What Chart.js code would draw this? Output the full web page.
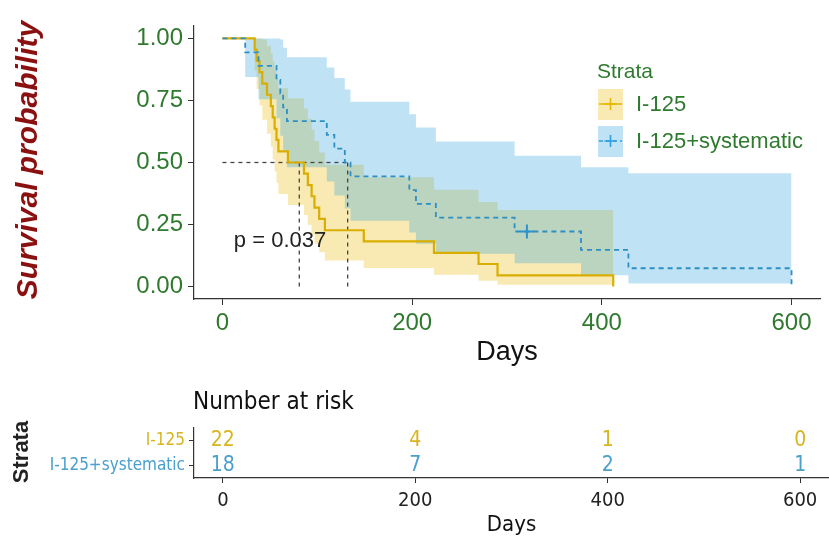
<!DOCTYPE html>
<html>
<head>
<meta charset="utf-8">
<script src="https://cdn.jsdelivr.net/npm/chart.js@4.4.0/dist/chart.umd.min.js"></script>
<style>
  body { margin: 0; background: #fff; width: 829px; height: 540px; overflow: hidden; position: relative; }
  #grafica { position: absolute; left: 0; top: 0; }
  #riesgo { position: absolute; left: 0; top: 380px; }
</style>
</head>
<body>
<canvas id="grafica" width="829" height="380"></canvas>
<canvas id="riesgo" width="829" height="160"></canvas>
<script>
// I-125 : tiempos, supervivencia y banda de confianza
const t125 = [0, 34, 36, 39, 42, 47, 51, 53, 55, 57, 59, 69, 86, 90, 94, 97, 102, 108, 149, 223, 270, 290, 412]
const s125 = [1, 0.955, 0.909, 0.864, 0.818, 0.773, 0.727, 0.682, 0.636, 0.591, 0.545, 0.5, 0.455, 0.409, 0.364, 0.318, 0.273, 0.227, 0.182, 0.136, 0.091, 0.045, 0]
const up125 = [1, 1, 1, 1, 0.996, 0.969, 0.94, 0.907, 0.873, 0.837, 0.799, 0.759, 0.718, 0.676, 0.632, 0.587, 0.54, 0.491, 0.441, 0.39, 0.341, 0.309, 0.309]
const lo125 = [1, 0.871, 0.796, 0.731, 0.672, 0.616, 0.563, 0.513, 0.464, 0.417, 0.373, 0.329, 0.288, 0.248, 0.209, 0.173, 0.138, 0.105, 0.075, 0.048, 0.024, 0.007, 0.007]

// I-125+systematic
const tSys = [0, 24, 38, 57, 61, 64, 68, 110, 118, 129, 135, 197, 204, 225, 308, 378, 428, 600]
const sSys = [1, 0.944, 0.889, 0.833, 0.778, 0.722, 0.667, 0.611, 0.556, 0.5, 0.444, 0.389, 0.333, 0.278, 0.222, 0.148, 0.074, 0]
const upSys = [1, 1, 1, 1, 0.996, 0.962, 0.924, 0.883, 0.84, 0.794, 0.745, 0.694, 0.641, 0.585, 0.527, 0.481, 0.457, 0.457]
const loSys = [1, 0.845, 0.755, 0.678, 0.608, 0.542, 0.481, 0.423, 0.367, 0.315, 0.265, 0.218, 0.173, 0.132, 0.094, 0.046, 0.012, 0.012]
const censSysT = [321]
const censSysS = [0.222]

const med125 = 81
const medSys = 132
const pValue = "p = 0.037"

const strata = ["I-125", "I-125+systematic"]
const xTicks = [0, 200, 400, 600]
const yTicks = [0, 0.25, 0.5, 0.75, 1]
const riskT = [0, 200, 400, 600]
const risk125 = [22, 4, 1, 0]
const riskSys = [18, 7, 2, 1]

const YEL = '#E7B800'
const BLU = '#2E9FDF'
const GREEN = '#2f7a2f'
const FONT = "'Liberation Sans', Arial, sans-serif"
const NARROW = "'Liberation Sans Narrow', 'Arial Narrow', 'DejaVu Sans Condensed', sans-serif"

const pts = (xs, ys) => xs.map((x, i) => ({ x: x, y: ys[i] }))

const medLine = (pairs) => ({
    data: pairs, borderColor: '#444', borderWidth: 1.3, borderDash: [4, 4],
    pointRadius: 0, fill: false, order: 5
})

const textos = {
    id: 'textos',
    afterDraw(chart) {
        const ctx = chart.ctx
        const x = chart.scales.x, y = chart.scales.y
        ctx.save()
        // titulo eje y
        ctx.save()
        ctx.translate(29, 160)
        ctx.rotate(-Math.PI / 2)
        ctx.fillStyle = '#8B1010'
        ctx.font = "italic bold 30px " + FONT
        ctx.textAlign = 'center'
        ctx.textBaseline = 'middle'
        ctx.fillText("Survival probability", 0, 0)
        ctx.restore()
        // titulo eje x
        ctx.fillStyle = '#111'
        ctx.font = "27px " + FONT
        ctx.textAlign = 'center'
        ctx.textBaseline = 'middle'
        ctx.fillText("Days", (chart.chartArea.left + chart.chartArea.right) / 2, 353)
        // p valor
        ctx.font = "22px " + FONT
        ctx.textAlign = 'left'
        ctx.fillStyle = '#222'
        ctx.fillText(pValue, x.getPixelForValue(12), y.getPixelForValue(0.185))
        // leyenda
        ctx.fillStyle = GREEN
        ctx.font = "21px " + FONT
        ctx.fillText("Strata", 597, 72)
        const keys = [[YEL, 'rgba(231,184,0,0.3)', [], 104], [BLU, 'rgba(46,159,223,0.3)', [4, 3], 141]]
        keys.forEach((k, i) => {
            ctx.fillStyle = k[1]
            ctx.fillRect(598, k[3] - 15, 25, 31)
            ctx.strokeStyle = k[0]
            ctx.lineWidth = 1.6
            ctx.setLineDash(k[2])
            ctx.beginPath(); ctx.moveTo(599, k[3]); ctx.lineTo(622, k[3]); ctx.stroke()
            ctx.setLineDash([])
            ctx.beginPath(); ctx.moveTo(610.5, k[3] - 6); ctx.lineTo(610.5, k[3] + 6)
            ctx.moveTo(604.5, k[3]); ctx.lineTo(616.5, k[3]); ctx.stroke()
            ctx.fillStyle = GREEN
            ctx.font = "22px " + FONT
            ctx.fillText(strata[i], 636, k[3] + 1)
        })
        ctx.restore()
    }
}

new Chart(document.querySelector("#grafica"), {
    type: 'line',
    data: {
        datasets: [
            { data: pts(t125, up125), stepped: true, borderWidth: 0, pointRadius: 0,
              fill: { target: 1 }, backgroundColor: 'rgba(231,184,0,0.3)', order: 10 },
            { data: pts(t125, lo125), stepped: true, borderWidth: 0, pointRadius: 0, fill: false, order: 10 },
            { data: pts(tSys, upSys), stepped: true, borderWidth: 0, pointRadius: 0,
              fill: { target: 3 }, backgroundColor: 'rgba(46,159,223,0.3)', order: 9 },
            { data: pts(tSys, loSys), stepped: true, borderWidth: 0, pointRadius: 0, fill: false, order: 9 },
            medLine([{ x: 0, y: 0.5 }, { x: medSys, y: 0.5 }]),
            medLine([{ x: med125, y: 0.5 }, { x: med125, y: 0 }]),
            medLine([{ x: medSys, y: 0.5 }, { x: medSys, y: 0 }]),
            { data: pts(t125, s125), stepped: true, borderColor: '#d9ae00', borderWidth: 2.2,
              pointRadius: 0, fill: false, order: 3 },
            { data: pts(tSys, sSys), stepped: true, borderColor: '#2d8fc4', borderWidth: 1.8,
              borderDash: [5, 4], pointRadius: 0, fill: false, order: 2 },
            { data: pts(censSysT, censSysS), showLine: false, pointStyle: 'cross', pointRadius: 7,
              borderColor: '#2d93cc', borderWidth: 2, order: 1 }
        ]
    },
    options: {
        responsive: false,
        animation: false,
        layout: { padding: { top: 26, left: 0, right: 0, bottom: 0 } },
        plugins: { legend: { display: false }, tooltip: { enabled: false } },
        scales: {
            x: {
                type: 'linear', min: -30, max: 630,
                afterBuildTicks: s => { s.ticks = xTicks.map(v => ({ value: v })) },
                afterFit: s => { s.height = 81 },
                grid: { drawOnChartArea: false, drawTicks: true, tickLength: 6, color: '#333' },
                border: { display: true, color: '#333', width: 1.2 },
                ticks: { color: GREEN, font: { family: FONT, size: 24 }, padding: 4, maxRotation: 0 }
            },
            y: {
                type: 'linear', min: -0.05, max: 1.05,
                afterBuildTicks: s => { s.ticks = yTicks.map(v => ({ value: v })) },
                afterFit: s => { s.width = 194 },
                grid: { drawOnChartArea: false, drawTicks: true, tickLength: 6, color: '#333' },
                border: { display: true, color: '#333', width: 1.2 },
                ticks: { color: GREEN, font: { family: FONT, size: 24 }, padding: 5,
                         callback: v => v.toFixed(2) }
            }
        }
    },
    plugins: [textos]
});

// tabla de numero en riesgo
const numeros = {
    id: 'numeros',
    afterDatasetsDraw(chart) {
        const ctx = chart.ctx
        ctx.save()
        ctx.font = "21px " + NARROW
        ctx.textAlign = 'center'
        ctx.textBaseline = 'middle'
        chart.data.datasets.forEach((ds, i) => {
            const meta = chart.getDatasetMeta(i)
            ctx.fillStyle = ds.textColor
            meta.data.forEach((p, j) => ctx.fillText(String(ds.counts[j]), p.x, p.y))
        })
        ctx.fillStyle = '#111'
        ctx.textAlign = 'left'
        ctx.font = "24px " + NARROW
        ctx.fillText("Number at risk", 193, 23)
        ctx.textAlign = 'center'
        ctx.font = "22px " + NARROW
        ctx.fillText("Days", (chart.chartArea.left + chart.chartArea.right) / 2, 145)
        ctx.translate(22, 72)
        ctx.rotate(-Math.PI / 2)
        ctx.font = "bold 22px " + FONT
        ctx.fillStyle = '#222'
        ctx.fillText("Strata", 0, 0)
        ctx.restore()
    }
}

new Chart(document.querySelector("#riesgo"), {
    type: 'scatter',
    data: {
        datasets: [
            { data: riskT.map(t => ({ x: t, y: strata[0] })), counts: risk125, textColor: '#d8b520', pointRadius: 0 },
            { data: riskT.map(t => ({ x: t, y: strata[1] })), counts: riskSys, textColor: '#4a9fcc', pointRadius: 0 }
        ]
    },
    options: {
        responsive: false,
        animation: false,
        layout: { padding: { top: 48, left: 0, right: 0, bottom: 0 } },
        plugins: { legend: { display: false }, tooltip: { enabled: false } },
        scales: {
            x: {
                type: 'linear', min: -30, max: 630,
                afterBuildTicks: s => { s.ticks = xTicks.map(v => ({ value: v })) },
                afterFit: s => { s.height = 62 },
                grid: { drawOnChartArea: false, drawTicks: true, tickLength: 5, color: '#333' },
                border: { display: true, color: '#333', width: 1.2 },
                ticks: { color: '#222', font: { family: NARROW, size: 20 }, padding: 6, maxRotation: 0 }
            },
            y: {
                type: 'category', labels: strata, offset: true,
                afterFit: s => { s.width = 194 },
                grid: { drawOnChartArea: false, drawTicks: true, tickLength: 5, color: '#333' },
                border: { display: true, color: '#333', width: 1.2 },
                ticks: { color: c => c.index === 0 ? '#d8b520' : '#4a9fcc', autoSkip: false,
                         font: { family: NARROW, size: 17 }, padding: 4 }
            }
        }
    },
    plugins: [numeros]
});
</script>
</body>
</html>
